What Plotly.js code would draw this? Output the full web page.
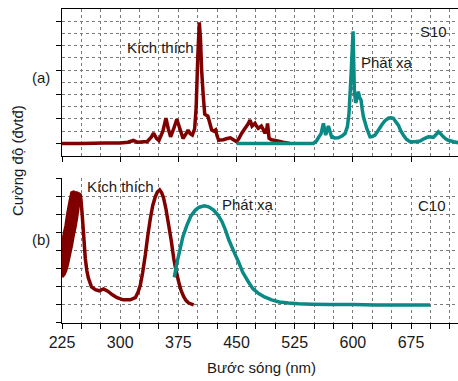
<!DOCTYPE html>
<html>
<head>
<meta charset="utf-8">
<script src="https://cdn.plot.ly/plotly-3.0.1.min.js"></script>
<style>html,body{margin:0;padding:0;background:#fff;}#chart{width:458px;height:381px;}</style>
</head>
<body>
<div id="chart"></div>
<script>
// Panel (a) S10 - excitation spectrum
const s10ExcWavelength = [225,250,280,300,310,317,322,335,340,343,347,350,355,359,362,365,369,373,377,381,385,387.5,390,393,396,398,400,402,403.5,405,407,409,411,413,415,418,421,423,425,427,433,438,442,446,450,453,456.5,461,465,467.4,470,473.8,476,478,482,484,486.7,489,490,491.9,495,500,510,519];
const s10ExcIntensity  = [0,0,0.02,0.02,0.05,0.12,0.05,0.08,0.25,0.42,0.2,0.12,0.5,1.03,0.6,0.27,0.6,0.99,0.6,0.2,0.4,0.55,0.4,0.34,0.6,1.5,3.5,4.95,4.3,3.0,2.0,1.2,1.15,1.12,0.9,0.55,0.5,0.55,0.3,0.13,0.15,0.2,0.23,0.15,0.07,0.2,0.41,0.62,0.8,0.96,0.71,0.82,0.7,0.62,0.71,0.6,0.41,0.6,0.82,0.21,0.15,0.12,0.05,0];
// Panel (a) S10 - emission spectrum
const s10EmWavelength = [450,500,549,553,555.5,559,562,564.9,568.4,572.7,577,581,586,590,593,595,597.7,600.2,601.9,603.6,605,607,608.5,610.5,612,613.5,617.8,622.1,625,628.5,633,637.1,641,645.7,649,652.2,655,658.6,662,665,669,673.7,680,686.6,692,697.3,703.7,707,710.2,713,716.6,720,723,730,736];
const s10EmIntensity  = [0,0,0,0.1,0.23,0.4,0.82,0.34,0.71,0.25,0.22,0.23,0.3,0.41,0.7,1.23,2.83,4.59,2.14,1.66,1.8,2.12,1.9,1.78,1.4,1.1,0.62,0.27,0.28,0.34,0.55,0.75,0.92,1.03,1.05,1.03,0.9,0.75,0.5,0.34,0.17,0.07,0.07,0.1,0.2,0.27,0.25,0.35,0.48,0.4,0.27,0.18,0.13,0.07,0.03];
// Panel (b) C10 - excitation: noisy band 225-248.6 nm (upper / lower envelopes)
const c10BandWavelength = [225,228,230,232,235,237.5,240,242,244,246,248.6];
const c10BandUpper      = [1.66,2.0,2.2,2.5,2.85,3.1,3.12,3.1,3.1,3.08,3.05];
const c10BandLower      = [0.77,0.85,0.95,1.1,1.4,1.65,1.95,2.15,2.4,2.7,3.0];
// Panel (b) C10 - excitation spectrum (smooth part)
const c10ExcWavelength = [248.6,249.5,251,253,255,257,259,263,268,273,278.6,284,290,296,304,313,319.5,323,326,329,332.4,335.5,338.9,342,345.3,348,350.9,353.5,356,359,362.5,366,369,372,375.4,378.5,381.9,385,388.3,394.8];
const c10ExcIntensity  = [3.04,2.9,2.5,1.9,1.29,0.95,0.74,0.5,0.42,0.39,0.44,0.38,0.28,0.2,0.14,0.14,0.2,0.35,0.55,0.9,1.38,1.9,2.39,2.75,2.99,3.12,3.18,3.1,2.95,2.65,2.21,1.75,1.29,0.95,0.64,0.4,0.23,0.12,0.05,0];
// Panel (b) C10 - emission spectrum
const c10EmWavelength = [369.8,373,377.5,381,386.2,391,396.9,402,408.5,414,420.5,426,431.3,436,440,446,452.3,458,465.2,471,478.1,486,495.3,505,516.8,530,546.8,570,600,630,660,699.5];
const c10EmIntensity  = [0.76,1.15,1.57,1.9,2.21,2.45,2.62,2.7,2.74,2.71,2.62,2.48,2.3,2.05,1.8,1.5,1.2,0.9,0.64,0.45,0.32,0.22,0.14,0.08,0.05,0.03,0.02,0.01,0.01,0,0,0];

const xTickVals = [225,300,375,450,525,600,675];
const xTickText = ['225','300','375','450','525','600','675'];

const RED = '#800000', TEAL = '#098a85';
const FONT = 'Liberation Sans, Arial, sans-serif';
const GRID = '#7a7a7a';

const bandX = c10BandWavelength.concat(c10BandWavelength.slice().reverse());
const bandY = c10BandUpper.concat(c10BandLower.slice().reverse());

const traces = [
  {x: s10ExcWavelength, y: s10ExcIntensity, xaxis:'x2', yaxis:'y2', mode:'lines', line:{color:RED, width:3.5, simplify:false}, hoverinfo:'skip'},
  {x: s10EmWavelength, y: s10EmIntensity, xaxis:'x2', yaxis:'y2', mode:'lines', line:{color:TEAL, width:3.5, simplify:false}, hoverinfo:'skip'},
  {x: bandX, y: bandY, xaxis:'x', yaxis:'y', mode:'lines', fill:'toself', fillcolor:RED, line:{color:RED, width:3, simplify:false}, hoverinfo:'skip'},
  {x: c10ExcWavelength, y: c10ExcIntensity, xaxis:'x', yaxis:'y', mode:'lines', line:{color:RED, width:3.5, simplify:false}, hoverinfo:'skip'},
  {x: c10EmWavelength, y: c10EmIntensity, xaxis:'x', yaxis:'y', mode:'lines', line:{color:TEAL, width:3.5, simplify:false}, hoverinfo:'skip'}
];

// pixel helpers for annotation placement (plot area: left 62, width 396, bottom 323, height 314)
const px = v => (v - 62) / 396;
const py = v => (323 - v) / 314;
function ann(text, x, y, extra) {
  return Object.assign({text: text, xref:'paper', yref:'paper', x: px(x), y: py(y), xanchor:'center', yanchor:'middle', showarrow:false, font:{family:FONT, size:15, color:'#1a1a1a'}}, extra || {});
}

const xCommon = {
  range:[225,735.5], tickmode:'array', tickvals:xTickVals, ticktext:xTickText,
  ticks:'outside', ticklen:5, tickcolor:'#000', tickwidth:1,
  showline:true, linecolor:'#000', linewidth:1,
  showgrid:true, gridcolor:GRID, griddash:'dot', gridwidth:1, zeroline:false,
  tickfont:{family:FONT, size:16, color:'#1a1a1a'}
};

const layout = {
  width:458, height:381,
  margin:{l:62, r:0, t:9, b:58},
  paper_bgcolor:'#fff', plot_bgcolor:'#fff',
  showlegend:false,
  font:{family:FONT, color:'#1a1a1a'},
  xaxis: Object.assign({}, xCommon, {
    anchor:'y', domain:[0,1],
    minor:{tick0:225, dtick:25, ticks:'outside', ticklen:5, tickcolor:'#000', showgrid:true, gridcolor:GRID, griddash:'dot', gridwidth:1}
  }),
  xaxis2: Object.assign({}, xCommon, {
    anchor:'y2', matches:'x', showticklabels:false, mirror:true,
    minor:{tick0:225, dtick:25, ticks:'', showgrid:true, gridcolor:GRID, griddash:'dot', gridwidth:1}
  }),
  yaxis: {
    domain:[0,0.461], range:[-0.5,3.5], tick0:0, dtick:0.5,
    ticks:'outside', ticklen:5, tickcolor:'#000', showticklabels:false,
    showline:true, linecolor:'#000', linewidth:1,
    showgrid:true, gridcolor:GRID, griddash:'dot', zeroline:false
  },
  yaxis2: {
    domain:[0.533,1], range:[-0.5,5.5], tick0:0, dtick:1,
    ticks:'outside', ticklen:5, tickcolor:'#000', showticklabels:false,
    showline:true, linecolor:'#000', linewidth:1,
    showgrid:true, gridcolor:GRID, griddash:'dot', zeroline:false,
    minor:{dtick:0.5, ticks:'', showgrid:true, gridcolor:GRID, griddash:'dot'}
  },
  annotations: [
    ann('Kích thích', 160, 48),
    ann('S10', 433, 32),
    ann('Phát xạ', 387, 63),
    ann('Kích thích', 120, 186),
    ann('Phát xạ', 248, 204),
    ann('C10', 432, 205),
    ann('(a)', 41, 78),
    ann('(b)', 41, 240),
    ann('Cường độ (đvtđ)', 17, 161, {textangle:-90}),
    ann('Bước sóng (nm)', 261, 367)
  ]
};

Plotly.newPlot('chart', traces, layout, {staticPlot:true, displayModeBar:false});
</script>
</body>
</html>
